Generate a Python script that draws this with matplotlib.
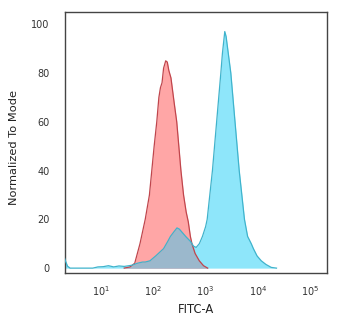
import numpy as np
import matplotlib
matplotlib.use("Agg")
import matplotlib.pyplot as plt

# Isotype control (red) histogram: log10(FITC-A) and normalized counts
red_logx = [1.45, 1.56, 1.65, 1.75, 1.85, 1.93, 1.975, 2.02, 2.07, 2.11, 2.14, 2.17,
            2.20, 2.24, 2.27, 2.30, 2.34, 2.40, 2.45, 2.49, 2.53, 2.58, 2.63, 2.67,
            2.71, 2.74, 2.80, 2.88, 2.96, 3.04]
red_y = [0, 0.5, 2, 10, 20, 30, 40, 50, 60, 70, 74, 76,
         82, 85, 84.5, 81, 78, 68, 60, 50, 40, 30, 23, 19,
         13, 10, 6, 3, 1, 0]

# Stained sample (cyan) histogram
blue_logx = [0.30, 0.33, 0.37, 0.42, 0.85, 0.95, 1.05, 1.15, 1.25, 1.35, 1.45, 1.60, 1.70,
             1.80, 1.85, 1.94, 2.05, 2.15, 2.20, 2.28, 2.33, 2.40, 2.455, 2.50, 2.56,
             2.62, 2.71, 2.77, 2.82, 2.88, 2.94, 3.00, 3.03, 3.08, 3.13, 3.17, 3.21,
             3.25, 3.29, 3.32, 3.365, 3.39, 3.42, 3.48, 3.52, 3.56, 3.60, 3.64, 3.69,
             3.74, 3.80, 3.87, 3.91, 3.98, 4.06, 4.15, 4.25, 4.35]
blue_y = [5, 3, 0.8, 0, 0, 0.5, 0.6, 1.0, 0.5, 0.9, 0.7, 1.2, 2,
          2.5, 2.5, 3, 5, 7, 8, 11, 13, 15, 16.5, 16, 14.5,
          13, 11, 9, 8.5, 10, 13, 17, 20, 30, 40, 50, 60,
          70, 80, 88, 97, 95, 90, 80, 70, 60, 50, 40, 30,
          20, 13, 10, 8, 5, 3, 1.5, 0.3, 0]

xtick_exps = [1, 2, 3, 4, 5]
ytick_vals = [0, 20, 40, 60, 80, 100]

fig = plt.figure(figsize=(3.5, 3.21), dpi=100)
ax = fig.add_axes([0.186, 0.1495, 0.748, 0.813])

rx = 10 ** np.array(red_logx)
bx = 10 ** np.array(blue_logx)
ry = np.array(red_y, dtype=float)
by = np.array(blue_y, dtype=float)

ax.fill_between(bx, 0, by, color="#8ee6fa", lw=0, zorder=1)
ax.fill_between(rx, 0, ry, color="#ffa6a6", lw=0, zorder=2)
# overlap region
by_on_r = np.interp(red_logx, blue_logx, blue_y)
ax.fill_between(rx, 0, np.minimum(ry, by_on_r), color="#9bb8cc", lw=0, zorder=3)
ax.plot(rx, ry, color="#c0454c", lw=0.9, zorder=4)
ax.plot(bx, by, color="#3fb3cc", lw=0.9, zorder=5)

ax.set_xscale("log")
ax.set_xlim(10 ** 0.324, 10 ** 5.31)
ax.set_ylim(-2, 105)
ax.set_xticks([10.0 ** e for e in xtick_exps])
ax.set_xticklabels([r"$10^{%d}$" % e for e in xtick_exps])
ax.xaxis.set_minor_locator(matplotlib.ticker.NullLocator())
ax.set_yticks(ytick_vals)
ax.set_yticklabels([str(v) for v in ytick_vals])
ax.tick_params(axis="both", length=0, labelsize=7, colors="#333333")
ax.tick_params(axis="y", pad=11)
ax.tick_params(axis="x", pad=8)

for s in ax.spines.values():
    s.set_color("#444444")
    s.set_linewidth(1.0)

ax.set_xlabel("FITC-A", fontsize=8.3, color="#222222", labelpad=4)
ax.set_ylabel("Normalized To Mode", fontsize=8.2, color="#222222")
ax.yaxis.set_label_coords(-0.175, 0.48)

fig.savefig("out.png", dpi=100)
